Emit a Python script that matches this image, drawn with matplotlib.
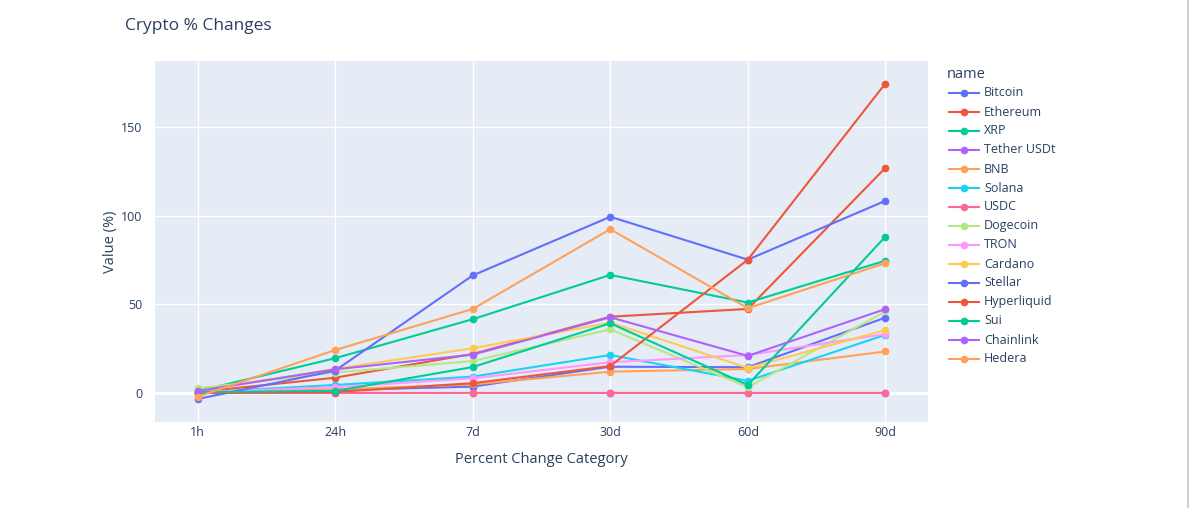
import matplotlib
matplotlib.use('Agg')
import matplotlib.pyplot as plt
from matplotlib.lines import Line2D

plt.rcParams['font.family'] = ['Open Sans', 'DejaVu Sans']

# Percent change categories on the x axis
categories = ["1h", "24h", "7d", "30d", "60d", "90d"]

# One list per coin (%)
bitcoin = [0.2, 1.5, 3.6, 14.8, 14.5, 42.5]
ethereum = [0.5, 8.6, 22.0, 43.0, 47.4, 127.0]
xrp = [1.0, 19.6, 41.6, 66.6, 51.0, 74.6]
tether = [0.0, 0.0, 0.0, 0.0, 0.0, 0.0]
bnb = [0.5, 2.0, 4.8, 12.0, 13.5, 23.4]
solana = [0.3, 4.5, 9.2, 21.4, 6.8, 32.8]
usdc = [0.0, 0.0, 0.0, 0.0, 0.0, 0.0]
dogecoin = [2.6, 11.5, 18.0, 35.9, 3.2, 46.0]
tron = [0.5, 3.2, 8.3, 17.3, 21.4, 33.2]
cardano = [1.0, 13.6, 25.2, 39.7, 14.1, 35.5]
stellar = [-3.4, 12.6, 66.3, 99.4, 75.2, 108.4]
hyperliquid = [0.0, 0.5, 5.5, 15.2, 75.2, 174.6]
sui = [0.5, 1.1, 14.6, 39.3, 4.5, 88.2]
chainlink = [1.1, 13.3, 21.6, 42.7, 20.9, 47.3]
hedera = [-2.1, 24.2, 47.4, 92.4, 47.8, 73.2]

names = ["Bitcoin", "Ethereum", "XRP", "Tether USDt", "BNB", "Solana", "USDC",
         "Dogecoin", "TRON", "Cardano", "Stellar", "Hyperliquid", "Sui",
         "Chainlink", "Hedera"]
series = [bitcoin, ethereum, xrp, tether, bnb, solana, usdc, dogecoin, tron,
          cardano, stellar, hyperliquid, sui, chainlink, hedera]

palette = ["#636efa", "#EF553B", "#00cc96", "#ab63fa", "#FFA15A", "#19d3f3",
           "#FF6692", "#B6E880", "#FF97FF", "#FECB52"]

text_color = "#2a3f5f"
W, H = 1190, 508

fig = plt.figure(figsize=(W / 100, H / 100), dpi=100)
ax = fig.add_axes([155 / W, 1 - 422 / H, (928 - 155) / W, (422 - 61) / H])
ax.set_facecolor("#E5ECF6")
for s in ax.spines.values():
    s.set_visible(False)

x = list(range(len(categories)))
for i, (name, vals) in enumerate(zip(names, series)):
    ax.plot(x, vals, color=palette[i % len(palette)], lw=1.5, marker="o",
            ms=4.5, label=name, zorder=3 + i * 0.01)

ax.set_xlim(-0.31, 5.31)
ax.set_ylim(-16.4, 187.3)
ax.set_xticks(x)
ax.set_xticklabels(categories)
ax.set_yticks([0, 50, 100, 150])
ax.grid(True, color="white", lw=1)
ax.set_axisbelow(True)
ax.axhline(0, color="white", lw=2, zorder=1)
ax.tick_params(length=0, labelsize=9, labelcolor=text_color)
ax.tick_params(axis="x", pad=3)
ax.tick_params(axis="y", pad=9)

ax.set_xlabel("Percent Change Category", fontsize=10.5, color=text_color, labelpad=9)
ax.set_ylabel("Value (%)", fontsize=10.5, color=text_color, labelpad=2)

fig.text(125 / W, 1 - 26 / H, "Crypto % Changes", fontsize=12.5,
         color=text_color, va="center", ha="left")

# legend drawn by hand to match the plotly layout
fig.text(947 / W, 1 - 74 / H, "name", fontsize=10.5, color=text_color,
         va="center", ha="left")
for i, name in enumerate(names):
    yy = 1 - (93 + i * 19) / H
    col = palette[i % len(palette)]
    fig.add_artist(Line2D([949 / W, 979 / W], [yy, yy], color=col, lw=1.5,
                          transform=fig.transFigure))
    fig.add_artist(Line2D([964 / W], [yy], color=col, marker="o", ms=4.5,
                          transform=fig.transFigure))
    fig.text(984 / W, yy, name, fontsize=9, color=text_color, va="center",
             ha="left")

# thin border at the right edge
fig.add_artist(Line2D([1188 / W, 1188 / W], [0, 1], color="#d0d0d0", lw=1.5,
                      transform=fig.transFigure))

fig.savefig("out.png", dpi=100)
